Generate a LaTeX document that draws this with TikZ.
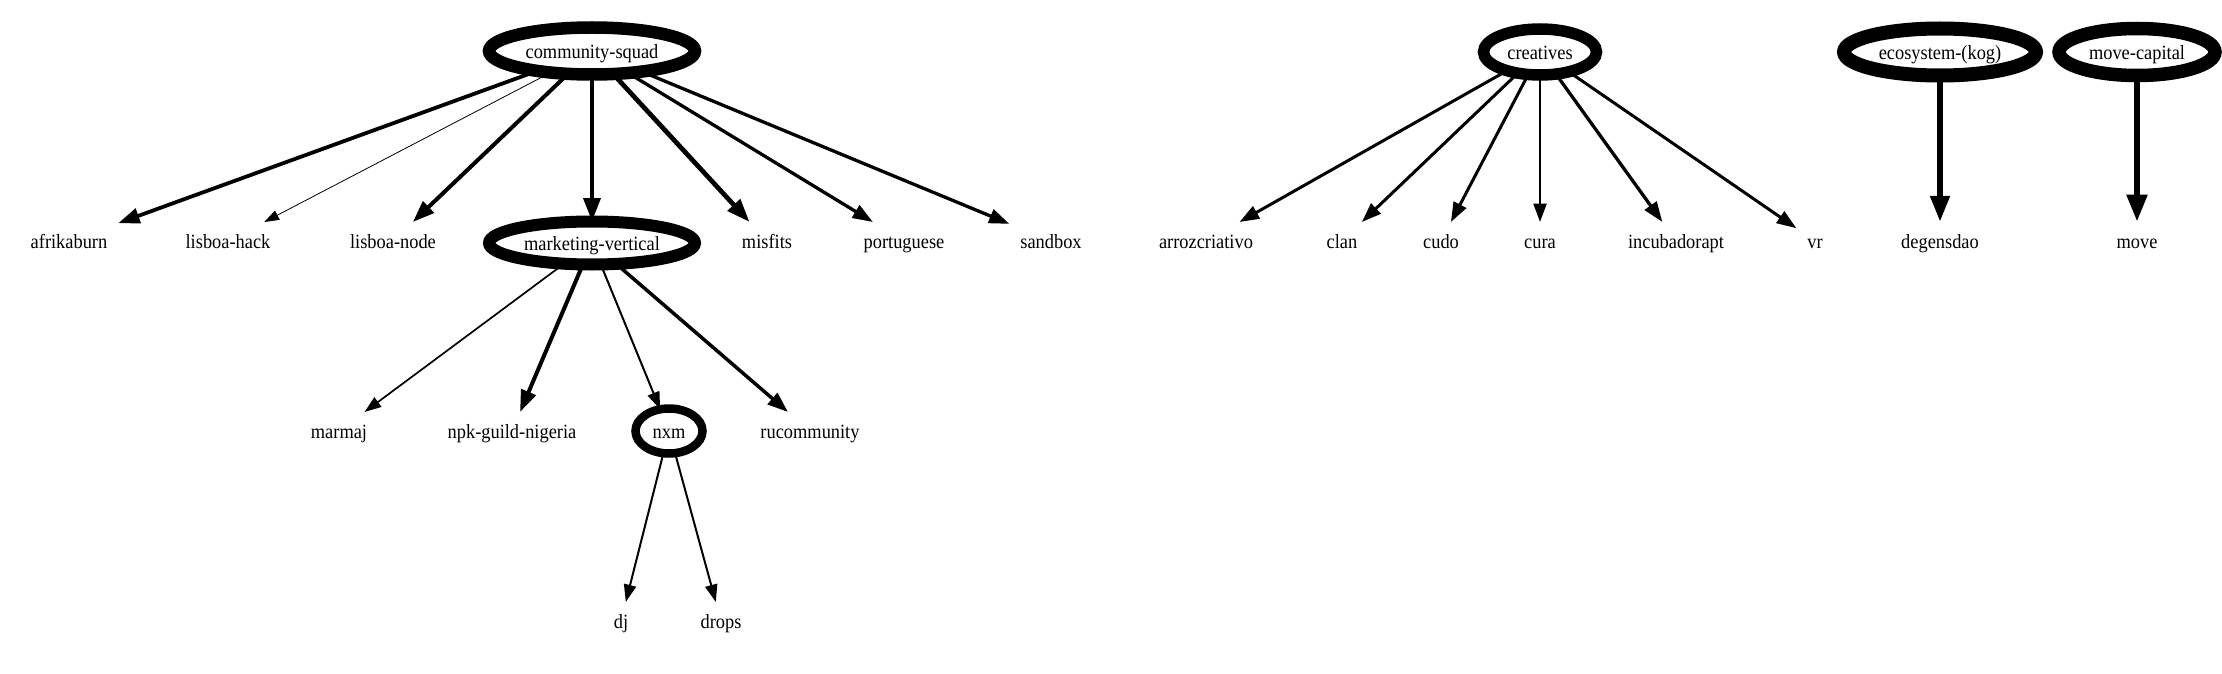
\documentclass[tikz,border=0pt]{standalone}
\usepackage{fontspec}
\setmainfont{Liberation Serif}[FakeStretch=0.91]
\usetikzlibrary{arrows.meta,shapes.geometric}
\begin{document}
\begin{tikzpicture}[x=1pt,y=-1pt,
  font=\fontsize{20.2pt}{24pt}\selectfont,
  every node/.style={text height=17.5pt, text depth=2pt},
  leaf/.style={inner xsep=11pt, inner ysep=0pt, minimum height=38pt, outer sep=0pt},
  ring/.style n args={3}{ellipse, draw, line width=#1, minimum width=#2, minimum height=#3, inner sep=0pt, outer sep=0pt},
  pw/.style={line width=#1, -{Triangle[length=13pt 2.2, width=9pt 1.6]}}
]
\useasboundingbox (0,0) rectangle (2222,674);
% ring nodes
\node[ring={12.5pt}{206pt}{47pt}] (cs) at (592,51) {community-squad};
\node[ring={12pt}{206pt}{43pt}] (mv) at (592,243) {marketing-vertical};
\node[ring={8.5pt}{67pt}{45pt}] (nxm) at (669,431) {nxm};
\node[ring={11.5pt}{113pt}{46pt}] (cr) at (1540,52) {creatives};
\node[ring={14pt}{192pt}{47pt}] (eco) at (1940,52) {ecosystem-(kog)};
\node[ring={13.5pt}{156pt}{47pt}] (mc) at (2137,52) {move-capital};
% leaf nodes
\node[leaf] (afr) at (69,241) {afrikaburn};
\node[leaf] (lh) at (228,241) {lisboa-hack};
\node[leaf] (ln) at (393,241) {lisboa-node};
\node[leaf] (mis) at (767,241) {misfits};
\node[leaf] (por) at (904,241) {portuguese};
\node[leaf] (sb) at (1051,241) {sandbox};
\node[leaf] (arr) at (1206,241) {arrozcriativo};
\node[leaf] (clan) at (1342,241) {clan};
\node[leaf] (cudo) at (1441,241) {cudo};
\node[leaf] (cura) at (1540,241) {cura};
\node[leaf] (inc) at (1676,241) {incubadorapt};
\node[leaf] (vr) at (1815,241) {vr};
\node[leaf] (deg) at (1940,241) {degensdao};
\node[leaf] (move) at (2137,241) {move};
\node[leaf] (mar) at (339,431) {marmaj};
\node[leaf] (npk) at (512,431) {npk-guild-nigeria};
\node[leaf] (ru) at (810,431) {rucommunity};
\node[leaf] (dj) at (621,621) {dj};
\node[leaf] (drops) at (721,621) {drops};
% edges
\draw[pw=3.8pt] (cs) -- (afr);
\draw[pw=0.8pt] (cs) -- (lh);
\draw[pw=4pt] (cs) -- (ln);
\draw[pw=4.7pt] (cs) -- (mv);
\draw[pw=4.7pt] (cs) -- (mis);
\draw[pw=3.3pt] (cs) -- (por);
\draw[pw=3.3pt] (cs) -- (sb);
\draw[pw=1.7pt] (mv) -- (mar);
\draw[pw=4pt] (mv) -- (npk);
\draw[pw=2pt] (mv) -- (nxm);
\draw[pw=3.5pt] (mv) -- (ru);
\draw[pw=2pt] (nxm) -- (dj);
\draw[pw=2pt] (nxm) -- (drops);
\draw[pw=3pt] (cr) -- (arr);
\draw[pw=3pt] (cr) -- (clan);
\draw[pw=3pt] (cr) -- (cudo);
\draw[pw=2.5pt] (cr) -- (cura);
\draw[pw=3.3pt] (cr) -- (inc);
\draw[pw=3pt] (cr) -- (vr);
\draw[pw=6pt] (eco) -- (deg);
\draw[pw=6.5pt] (mc) -- (move);
\end{tikzpicture}
\end{document}
